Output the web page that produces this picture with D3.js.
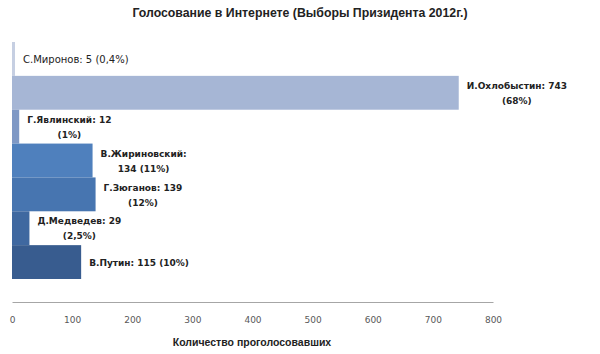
<!DOCTYPE html>
<html lang="ru">
<head>
<meta charset="utf-8">
<title>Голосование в Интернете</title>
<script src="https://d3js.org/d3.v7.min.js"></script>
<style>
  body { margin: 0; background: #fff; }
  text { font-family: "DejaVu Sans", Verdana, sans-serif; }
</style>
</head>
<body>
<div id="chart"></div>
<script>
// Data, top to bottom
const candidates = ["С.Миронов", "И.Охлобыстин", "Г.Явлинский", "В.Жириновский", "Г.Зюганов", "Д.Медведев", "В.Путин"];
const votes = [5, 743, 12, 134, 139, 29, 115];
const percents = ["0,4%", "68%", "1%", "11%", "12%", "2,5%", "10%"];
const labelLines = [
  ["С.Миронов: 5 (0,4%)"],
  ["И.Охлобыстин: 743", "(68%)"],
  ["Г.Явлинский: 12", "(1%)"],
  ["В.Жириновский:", "134 (11%)"],
  ["Г.Зюганов: 139", "(12%)"],
  ["Д.Медведев: 29", "(2,5%)"],
  ["В.Путин: 115 (10%)"]
];
const barColors = ["#c6cfe2", "#a6b6d5", "#7e98c5", "#4f80bd", "#4775b0", "#3f68a0", "#385c8f"];
const xTicks = [0, 100, 200, 300, 400, 500, 600, 700, 800];

const width = 600, height = 354;

const svg = d3.select("#chart").append("svg")
  .attr("width", width)
  .attr("height", height);

// Scales
const x = d3.scaleLinear().domain([0, 800]).range([12, 493]);
const y = d3.scaleBand().domain(candidates).range([42, 279]).padding(0);

// Title
svg.append("text")
  .attr("x", 300)
  .attr("y", 17)
  .attr("text-anchor", "middle")
  .style("font-family", "'Liberation Sans', Arial, sans-serif")
  .style("font-size", "12.3px")
  .style("font-weight", "bold")
  .style("fill", "#222")
  .text("Голосование в Интернете (Выборы Призидента 2012г.)");

// Bars
svg.selectAll("rect.bar")
  .data(candidates)
  .join("rect")
  .attr("class", "bar")
  .attr("x", x(0))
  .attr("y", d => y(d))
  .attr("width", (d, i) => x(votes[i]) - x(0))
  .attr("height", y.bandwidth())
  .attr("fill", (d, i) => barColors[i]);

// Labels
candidates.forEach((c, i) => {
  const lines = labelLines[i];
  const x0 = x(votes[i]) + 8;
  const cy = y(c) + y.bandwidth() / 2;
  const g = svg.append("g");
  const first = g.append("text")
    .attr("x", x0)
    .attr("y", lines.length > 1 ? cy - 7 : cy + 1)
    .attr("dy", "0.35em")
    .style("font-size", i === 0 ? "10px" : "9px")
    .style("font-weight", i === 0 ? "normal" : "bold")
    .style("fill", "#222")
    .text(lines[0]);
  if (lines.length > 1) {
    const w = first.node().getComputedTextLength();
    g.append("text")
      .attr("x", x0 + w / 2)
      .attr("y", cy + 8)
      .attr("dy", "0.35em")
      .attr("text-anchor", "middle")
      .style("font-size", "9px")
      .style("font-weight", "bold")
      .style("fill", "#222")
      .text(lines[1]);
  }
});

// X axis
const axis = svg.append("g")
  .attr("transform", "translate(0,302)")
  .call(d3.axisBottom(x).tickValues(xTicks).tickSize(0).tickPadding(15));
axis.select(".domain").attr("stroke", "#a6a6a6");
axis.selectAll("text")
  .style("font-family", "'DejaVu Sans', Verdana, sans-serif")
  .style("font-size", "9px")
  .style("fill", "#595959");

svg.append("text")
  .attr("x", 252)
  .attr("y", 346)
  .attr("text-anchor", "middle")
  .style("font-family", "'Liberation Sans', Arial, sans-serif")
  .style("font-size", "10.5px")
  .style("font-weight", "bold")
  .style("fill", "#222")
  .text("Количество  проголосовавших");
</script>
</body>
</html>
